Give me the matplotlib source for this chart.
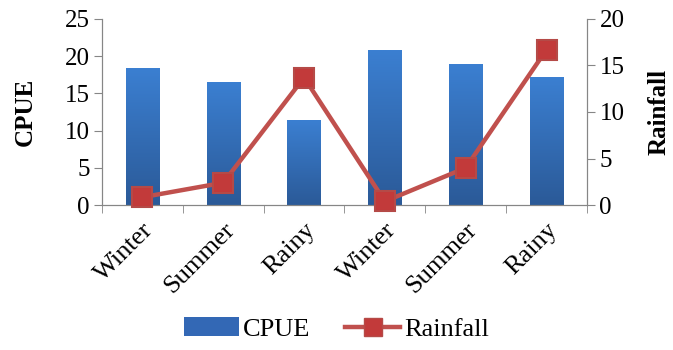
import numpy as np
import matplotlib.pyplot as plt
from matplotlib.colors import LinearSegmentedColormap
from matplotlib.patches import Patch
from matplotlib.lines import Line2D

plt.rcParams['font.family'] = ['Liberation Serif', 'DejaVu Serif']

seasons = ['Winter', 'Summer', 'Rainy', 'Winter', 'Summer', 'Rainy']
cpue = [18.3, 16.4, 11.4, 20.7, 18.8, 17.1]
rainfall = [0.85, 2.4, 13.7, 0.4, 4.0, 16.7]

grey = '#868686'
fs = 18

fig = plt.figure(figsize=(6.73, 3.5), dpi=100)
ax = fig.add_axes([0.1516, 0.414, 0.7205, 0.532])
x = np.arange(len(seasons))
w = 0.41

# bars drawn with a vertical blue gradient
blues = LinearSegmentedColormap.from_list('bars', ['#2b5a98', '#3b7fd1'])
grad = np.linspace(0, 1, 100).reshape(-1, 1)
for xi, v in zip(x, cpue):
    ax.imshow(grad, cmap=blues, origin='lower', aspect='auto',
              extent=(xi - w / 2, xi + w / 2, 0, v), zorder=2)
ax.set_xlim(-0.5, len(seasons) - 0.5)
ax.set_ylim(0, 25)
ax.set_yticks(np.arange(0, 26, 5))
ax.set_xticks(x)
ax.set_xticklabels(seasons, rotation=45, ha='right', rotation_mode='anchor')
ax.set_xticks(np.arange(-0.5, len(seasons)), minor=True)
ax.tick_params(axis='x', which='major', length=0, labelsize=fs + 1, pad=10)
ax.tick_params(axis='x', which='minor', length=6, color=grey, direction='out')
ax.tick_params(axis='y', labelsize=fs, length=6, color=grey, pad=3)
ax.set_ylabel('CPUE', fontsize=fs, fontweight='bold', labelpad=20)
ax.spines['top'].set_visible(False)
for s in ['left', 'bottom', 'right']:
    ax.spines[s].set_color(grey)

ax2 = ax.twinx()
ax2.plot(x, rainfall, color='#c0504d', lw=3.2, marker='s', ms=14,
         mfc='#c23a3a', mec='#b54a47', mew=1.5, zorder=5, clip_on=False)
ax2.set_ylim(0, 20)
ax2.set_yticks(np.arange(0, 21, 5))
ax2.tick_params(axis='y', labelsize=fs, length=6, color=grey, pad=3)
ax2.set_ylabel('Rainfall', fontsize=fs, fontweight='bold', labelpad=17)
ax2.spines['top'].set_visible(False)
for s in ['left', 'bottom', 'right']:
    ax2.spines[s].set_color(grey)

handles = [Patch(facecolor='#3368b5', edgecolor='none'),
           Line2D([], [], color='#c0504d', lw=3.2, marker='s', ms=13,
                  mfc='#c23a3a', mec='#b54a47')]
fig.legend(handles, ['CPUE', 'Rainfall'], loc='center', bbox_to_anchor=(0.5, 0.06),
           ncol=2, frameon=False, fontsize=fs + 1, handlelength=2.1, handleheight=0.75,
           columnspacing=1.3, handletextpad=0.15)

fig.savefig('out.png', dpi=100)
